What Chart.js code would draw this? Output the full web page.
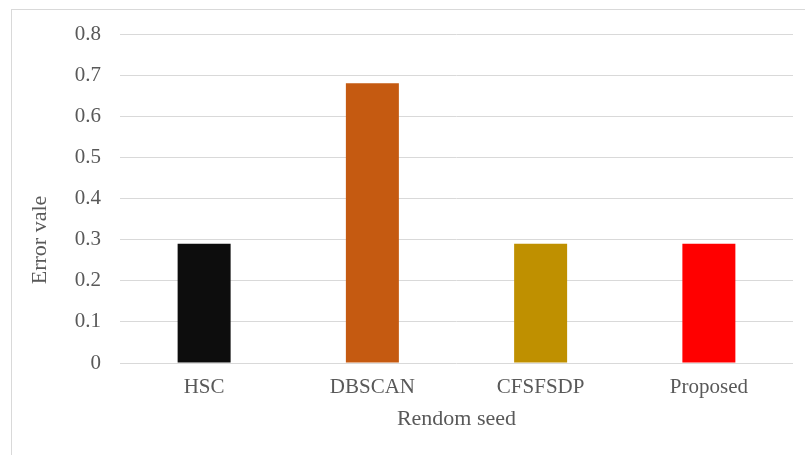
<!DOCTYPE html>
<html>
<head>
<meta charset="utf-8">
<script src="https://cdn.jsdelivr.net/npm/chart.js@4"></script>
<style>
  html, body { margin: 0; padding: 0; background: #fff; }
  #wrap { position: relative; width: 805px; height: 455px; overflow: hidden; }
  #frame { position: absolute; left: 11px; top: 9px; width: 820px; height: 470px; border: 1px solid #d9d9d9; box-sizing: border-box; }
  #myChart { position: absolute; left: 0; top: 0; }
</style>
</head>
<body>
<div id="wrap">
  <div id="frame"></div>
  <canvas id="myChart" width="805" height="455"></canvas>
</div>
<script>
// methods along the x axis and their error values
const methods = ['HSC', 'DBSCAN', 'CFSFSDP', 'Proposed'];
const errorValues = [0.29, 0.68, 0.29, 0.29];
const barColors = ['#0d0d0d', '#c55a11', '#bf9000', '#ff0000'];
const yTitle = 'Error vale';
const xTitle = 'Rendom seed';

const textColor = '#595959';
const serif = "'Liberation Serif', 'Times New Roman', serif";

// y title sits a bit lower than the plot centre, so draw it by hand
const yTitlePlugin = {
    id: 'yTitle',
    afterDraw: function (chart) {
        const c = chart.ctx;
        c.save();
        c.translate(40, 240);
        c.rotate(-Math.PI / 2);
        c.font = '22px ' + serif;
        c.fillStyle = textColor;
        c.textAlign = 'center';
        c.textBaseline = 'middle';
        c.fillText(yTitle, 0, 0);
        c.restore();
    }
};

const ctx = document.getElementById('myChart');

new Chart(ctx, {
    type: 'bar',
    data: {
        labels: methods,
        datasets: [{
            data: errorValues,
            backgroundColor: barColors,
            borderWidth: 0,
            categoryPercentage: 1,
            barPercentage: 0.315
        }]
    },
    options: {
        responsive: false,
        animation: false,
        layout: { padding: { left: 0, top: 34, right: 12, bottom: 0 } },
        plugins: {
            legend: { display: false },
            tooltip: { enabled: false }
        },
        scales: {
            x: {
                grid: { display: false, drawTicks: false },
                border: { display: false },
                ticks: { color: textColor, font: { family: serif, size: 21 }, padding: 12 },
                title: {
                    display: true,
                    text: xTitle,
                    color: textColor,
                    font: { family: serif, size: 22 },
                    padding: { top: 4, bottom: 23 }
                },
                afterFit: function (s) { s.height = 92; }
            },
            y: {
                min: 0,
                max: 0.8,
                ticks: {
                    stepSize: 0.1,
                    color: textColor,
                    font: { family: serif, size: 21 },
                    padding: 19,
                    callback: function (v) { return Math.round(v * 10) / 10; }
                },
                grid: { color: '#d9d9d9', lineWidth: 1, drawTicks: false },
                border: { display: false },
                afterFit: function (s) { s.width = 120; }
            }
        }
    },
    plugins: [yTitlePlugin]
});
</script>
</body>
</html>
